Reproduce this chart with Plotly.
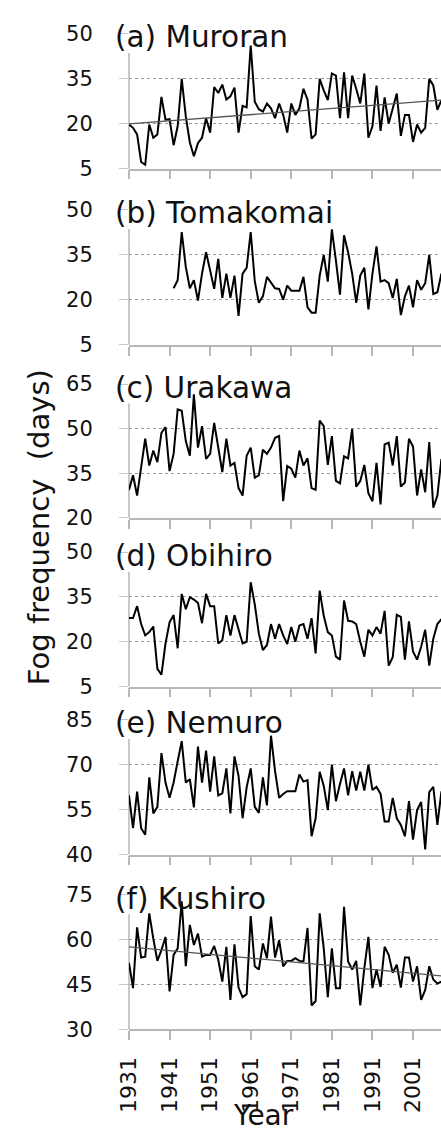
import plotly.graph_objects as go

# ---------------- data ----------------
years = list(range(1931, 2009))
years_tomakomai = list(range(1942, 2009))

muroran = [19.7, 18.6, 16.4, 7.2, 6.3, 19.7, 15.3, 16.4, 28.9, 21.3,
           21.5, 12.8, 19.1, 34.9, 22.4, 13.7, 9.1, 13.5, 15.3, 21.8,
           17.0, 32.2, 30.2, 33.0, 28.0, 29.1, 32.0, 17.0, 25.9, 25.4,
           46.0, 27.3, 24.8, 24.0, 26.7, 25.1, 21.8, 26.7, 22.9, 17.0,
           26.7, 22.9, 25.1, 31.6, 28.0, 15.0, 16.4, 34.9, 31.1, 27.8,
           36.7, 36.0, 21.8, 37.1, 21.8, 36.0, 31.6, 26.7, 36.7, 15.3,
           19.1, 32.7, 17.6, 28.7, 20.0, 24.6, 30.0, 15.9, 22.9, 22.9,
           13.9, 19.7, 17.0, 18.6, 34.9, 32.7, 24.6, 27.8]

tomakomai = [23.8, 26.5, 42.5, 30.9, 23.8, 26.5, 19.7, 28.7, 35.8,
             29.3, 23.6, 33.6, 20.6, 28.7, 20.6, 28.0, 14.6, 28.7, 30.6,
             42.5, 26.2, 19.0, 21.1, 27.6, 25.8, 23.8, 23.6, 20.0, 24.7,
             23.0, 23.0, 23.0, 27.6, 17.5, 15.7, 15.7, 28.0, 34.9, 26.0,
             43.4, 33.0, 21.7, 41.4, 35.8, 28.7, 19.0, 28.0, 30.6, 16.8,
             28.7, 37.7, 26.0, 26.5, 25.5, 20.6, 26.9, 14.9, 21.1, 24.7,
             17.5, 26.5, 23.3, 25.5, 34.9, 21.9, 22.5, 28.7]

urakawa = [29.4, 34.3, 27.5, 37.6, 46.6, 37.6, 42.6, 38.7, 48.6, 50.5,
           35.7, 41.5, 56.5, 56.0, 45.8, 40.9, 61.5, 43.6, 50.8, 39.8,
           41.5, 51.9, 43.6, 35.4, 46.6, 37.6, 38.5, 30.0, 27.5, 40.9,
           43.6, 33.5, 34.3, 42.9, 41.5, 43.6, 46.9, 47.5, 25.6, 37.4,
           36.5, 33.5, 42.6, 37.6, 40.0, 30.0, 29.4, 52.7, 50.8, 37.8,
           47.5, 32.4, 31.6, 40.7, 40.0, 49.9, 30.5, 32.4, 37.8, 28.3,
           25.6, 38.5, 24.5, 44.7, 45.3, 37.6, 47.5, 30.5, 31.9, 46.6,
           44.0, 27.5, 36.3, 28.6, 45.5, 23.4, 27.5, 39.8]

obihiro = [27.9, 27.9, 31.9, 25.9, 22.1, 23.2, 25.1, 10.9, 9.0, 19.4,
           26.5, 28.9, 17.8, 36.0, 30.9, 34.9, 34.1, 33.0, 26.2, 36.0,
           31.9, 31.9, 19.4, 20.5, 28.9, 22.1, 28.9, 24.3, 19.4, 20.0,
           39.9, 32.5, 22.7, 17.2, 18.9, 25.9, 21.0, 25.9, 22.1, 19.2,
           24.9, 20.0, 25.4, 25.9, 21.0, 27.9, 16.1, 37.1, 28.7, 23.2,
           22.1, 15.0, 14.0, 33.8, 27.0, 26.8, 25.9, 20.0, 15.0, 24.0,
           22.1, 24.9, 22.7, 30.3, 12.0, 14.8, 29.0, 28.3, 14.0, 26.8,
           16.7, 14.0, 18.3, 24.0, 12.0, 21.0, 25.9, 27.6]

nemuro = [59.7, 48.8, 61.0, 48.8, 46.6, 65.7, 53.7, 55.9, 73.8, 64.0,
          58.9, 64.0, 71.1, 77.8, 64.0, 65.1, 55.7, 76.0, 64.0, 74.6,
          61.0, 72.7, 59.7, 60.4, 68.7, 53.7, 72.7, 66.2, 52.1, 62.4,
          68.7, 55.9, 53.9, 65.7, 56.4, 79.6, 67.8, 58.9, 60.2, 61.1,
          61.1, 61.1, 66.7, 64.3, 64.8, 46.1, 52.1, 67.6, 62.9, 54.8,
          70.0, 57.8, 63.5, 68.7, 59.7, 67.8, 61.3, 67.6, 61.3, 70.0,
          61.5, 62.6, 60.2, 51.0, 51.0, 58.9, 52.1, 49.9, 46.1, 57.8,
          45.0, 54.8, 57.5, 41.7, 60.8, 62.6, 49.9, 61.1]

kushiro = [52.2, 43.8, 64.1, 54.0, 54.3, 68.8, 60.3, 52.9, 56.5, 60.9,
           42.7, 54.9, 57.1, 72.8, 51.1, 64.9, 58.2, 62.0, 54.3, 54.9,
           54.9, 57.9, 53.3, 46.0, 57.6, 39.9, 58.4, 44.0, 40.8, 41.8,
           67.9, 51.1, 50.0, 58.7, 53.8, 67.7, 54.0, 59.8, 51.1, 52.9,
           52.9, 53.8, 52.9, 52.7, 63.9, 38.0, 39.5, 68.8, 57.1, 40.8,
           57.1, 43.8, 43.8, 71.0, 52.7, 50.0, 52.9, 38.0, 50.5, 60.9,
           43.8, 50.0, 44.2, 57.6, 54.9, 48.9, 51.6, 44.0, 54.0, 54.0,
           46.0, 51.1, 39.9, 43.2, 51.1, 46.7, 45.3, 46.0]

trend_years = [1931, 2008]
muroran_trend = [19.9, 27.8]
kushiro_trend = [57.6, 47.9]

x_tick_years = [1931, 1941, 1951, 1961, 1971, 1981, 1991, 2001]

labels = ["(a) Muroran", "(b) Tomakomai", "(c) Urakawa",
          "(d) Obihiro", "(e) Nemuro", "(f) Kushiro"]
series_x = [years, years_tomakomai, years, years, years, years]
series_y = [muroran, tomakomai, urakawa, obihiro, nemuro, kushiro]
y_ticks = [[5, 20, 35, 50], [5, 20, 35, 50], [20, 35, 50, 65],
           [5, 20, 35, 50], [40, 55, 70, 85], [30, 45, 60, 75]]
trends = {0: muroran_trend, 5: kushiro_trend}

y_title = "Fog frequency\u00a0 (days)"
x_title = "Year"

# ---------------- layout constants (pixels) ----------------
W, H = 441, 1141
X0 = 119.5
panel_px = [(22, 160), (201.7, 340), (380, 516.7),
            (551.7, 689), (722.7, 860.7), (901.7, 1039.3)]
label_right_px = [290, 336, 295, 276, 286, 273]
X_END = 1931 + (W - X0) / 4.181


def py(px):
    return 1 - px / H


FONT = "DejaVu Sans"
GRID = "#9a9a9a"
AX = "#b8b8b8"

fig = go.Figure()
layout = dict(width=W, height=H, margin=dict(l=0, r=0, t=0, b=0),
              plot_bgcolor="white", paper_bgcolor="white",
              showlegend=False, font=dict(family=FONT, color="#111"))
shapes = []
annotations = []

for i in range(6):
    n = "" if i == 0 else str(i + 1)
    top, bot = panel_px[i]
    xa, ya = "x" + n, "y" + n
    fig.add_trace(go.Scatter(x=series_x[i], y=series_y[i], mode="lines",
                             line=dict(color="black", width=2),
                             xaxis=xa, yaxis=ya, hoverinfo="skip"))
    if i in trends:
        fig.add_trace(go.Scatter(x=trend_years, y=trends[i], mode="lines",
                                 line=dict(color="#555555", width=1.3),
                                 xaxis=xa, yaxis=ya, hoverinfo="skip"))
    yt = y_ticks[i]
    layout["xaxis" + n] = dict(
        domain=[X0 / W, 1], range=[1931, X_END], anchor=ya,
        tickvals=x_tick_years, ticktext=[str(v) for v in x_tick_years],
        ticks="outside", ticklen=9, tickwidth=1.5, tickcolor=AX,
        showline=True, linecolor=AX, linewidth=1.5, showgrid=False,
        zeroline=False, showticklabels=(i == 5), tickangle=-90,
        tickfont=dict(size=22, family=FONT, color="#111"),
        ticklabelstandoff=8)
    layout["yaxis" + n] = dict(
        domain=[py(bot), py(top)], range=[yt[0], yt[-1]], anchor=xa,
        tickvals=yt, ticks="outside", ticklen=9, tickwidth=1,
        tickcolor="#c8c8c8", showline=False, zeroline=False,
        showgrid=True, gridcolor=GRID, griddash="dot", gridwidth=1,
        tickfont=dict(size=21, family=FONT, color="#111"),
        ticklabelstandoff=22)
    # y-axis line
    shapes.append(dict(type="line", xref="paper", yref="paper",
                       x0=X0 / W, x1=X0 / W, y0=py(bot), y1=py(top),
                       line=dict(color=AX, width=1.5), layer="between"))
    # white box behind the panel label
    shapes.append(dict(type="rect", xref="paper", yref="paper",
                       x0=110 / W, x1=label_right_px[i] / W,
                       y0=py(top + 20), y1=py(top - 12),
                       fillcolor="white", line=dict(width=0),
                       layer="between"))
    annotations.append(dict(text=labels[i], xref="paper", yref="paper",
                            x=103 / W, y=py(top + 4), xanchor="left",
                            yanchor="middle", showarrow=False,
                            font=dict(size=29.5, family=FONT, color="#111")))

annotations.append(dict(text=y_title, xref="paper", yref="paper",
                        x=27 / W, y=py(526), xanchor="center",
                        yanchor="middle", textangle=-90, showarrow=False,
                        font=dict(size=29, family=FONT, color="#111")))
annotations.append(dict(text=x_title, xref="paper", yref="paper",
                        x=258 / W, y=py(1127), xanchor="center",
                        yanchor="middle", showarrow=False,
                        font=dict(size=28, family=FONT, color="#111")))

layout["shapes"] = shapes
layout["annotations"] = annotations
fig.update_layout(**layout)
fig.write_html("out.html")
